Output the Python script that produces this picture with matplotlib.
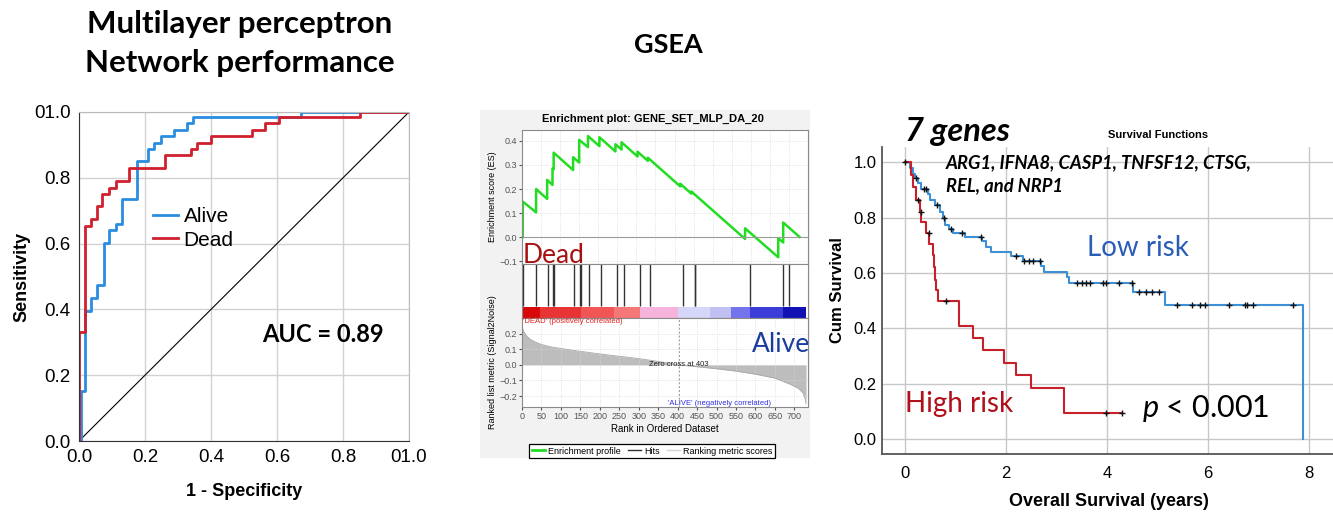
import numpy as np
import matplotlib.pyplot as plt
from matplotlib.patches import Rectangle
from matplotlib.lines import Line2D

W, H = 1333, 515

# ---------------- ROC (multilayer perceptron) ----------------
roc_alive_fpr = [0, 0.006, 0.018, 0.035, 0.055, 0.076, 0.091, 0.111, 0.131, 0.175,
                 0.21, 0.227, 0.247, 0.288, 0.326, 0.346, 0.672, 1.0]
roc_alive_tpr = [0, 0.151, 0.395, 0.435, 0.473, 0.603, 0.64, 0.66, 0.737, 0.851,
                 0.887, 0.907, 0.927, 0.946, 0.966, 0.985, 1.0, 1.0]
roc_dead_fpr = [0, 0, 0.018, 0.035, 0.055, 0.071, 0.091, 0.111, 0.151, 0.262,
                0.338, 0.358, 0.399, 0.525, 0.565, 0.605, 0.851, 1.0]
roc_dead_tpr = [0, 0.33, 0.655, 0.675, 0.713, 0.75, 0.77, 0.79, 0.83, 0.868,
                0.888, 0.907, 0.927, 0.946, 0.966, 0.985, 1.0, 1.0]
roc_ticks = [0, 0.2, 0.4, 0.6, 0.8, 1.0]
roc_ticklabels = ['0.0', '0.2', '0.4', '0.6', '0.8', '01.0']

# ---------------- GSEA ----------------
es_rank = [2, 2, 37, 37, 66, 66, 80, 80, 83, 83, 134, 134, 150, 150, 173, 173,
           203, 203, 245, 245, 261, 261, 303, 303, 330, 330, 415, 415, 444, 444,
           585, 585, 672, 672, 685, 685, 728]
es_val = [0.0, 0.148, 0.103, 0.20, 0.159, 0.238, 0.217, 0.286, 0.282, 0.351,
          0.279, 0.332, 0.31, 0.404, 0.374, 0.42, 0.378, 0.415, 0.356, 0.386,
          0.364, 0.394, 0.335, 0.355, 0.317, 0.33, 0.211, 0.222, 0.181, 0.19,
          -0.007, 0.037, -0.083, -0.004, -0.022, 0.061, 0.001]
hit_rank = [2, 37, 66, 80, 83, 134, 150, 151, 173, 203, 245, 261, 303, 330,
            415, 444, 445, 585, 672, 685]
metric_rank = [0, 3, 10, 20, 35, 50, 75, 100, 140, 200, 250, 300, 350, 403,
               450, 500, 550, 600, 650, 690, 710, 722, 728, 730]
metric_val = [0.25, 0.22, 0.19, 0.165, 0.145, 0.13, 0.115, 0.105, 0.09, 0.07,
              0.055, 0.04, 0.022, 0.0, -0.012, -0.025, -0.04, -0.06, -0.085,
              -0.125, -0.15, -0.18, -0.22, -0.25]
bar_edges = [0, 46, 151, 237, 302, 401, 482, 536, 585, 670, 730]
bar_colors = ['#d80808', '#e83434', '#f05656', '#f47878', '#f6b4dc',
              '#d6d6f8', '#c0c0f2', '#7474ec', '#3c3cd8', '#1212b4']

# ---------------- Kaplan-Meier ----------------
low_t = [0, 0.10, 0.17, 0.20, 0.27, 0.33, 0.45, 0.50, 0.60, 0.70, 0.75, 0.80,
         0.87, 0.95, 1.20, 1.53, 1.60, 1.70, 2.10, 2.33, 2.69, 2.75, 3.20,
         3.25, 4.52, 5.15, 7.88]
low_s = [1.0, 0.98, 0.96, 0.945, 0.925, 0.905, 0.885, 0.865, 0.845, 0.82,
         0.80, 0.775, 0.76, 0.745, 0.73, 0.715, 0.695, 0.675, 0.66, 0.645,
         0.625, 0.605, 0.585, 0.565, 0.53, 0.485, 0.0]
low_cens = [0.01, 0.22, 0.375, 0.43, 0.64, 0.78, 0.92, 1.13, 1.51, 2.2, 2.36,
            2.45, 2.53, 2.68, 3.40, 3.50, 3.58, 3.67, 3.93, 3.98, 4.23, 4.50,
            4.63, 4.77, 4.90, 5.03, 5.38, 5.69, 5.84, 5.94, 6.42, 6.73, 6.77,
            6.89, 7.67]
high_t = [0, 0.12, 0.17, 0.22, 0.30, 0.33, 0.43, 0.48, 0.55, 0.57, 0.60, 0.62,
          0.66, 1.08, 1.34, 1.54, 1.97, 2.20, 2.50, 3.15, 4.30]
high_s = [1.0, 0.955, 0.91, 0.865, 0.82, 0.785, 0.745, 0.705, 0.665, 0.62,
          0.575, 0.54, 0.50, 0.41, 0.365, 0.32, 0.275, 0.23, 0.185, 0.092, 0.092]
high_cens = [0.26, 0.32, 0.47, 0.82, 3.99, 4.30]


def fx(px):
    return px / W


def fy(py):
    return 1 - py / H


def box(x0, y0, x1, y1):
    # pixel corners -> figure rect
    return [fx(x0), fy(y1), (x1 - x0) / W, (y1 - y0) / H]


def surv_at(t, times, surv):
    i = np.searchsorted(times, t, side='right') - 1
    return surv[i]


plt.rcParams['font.family'] = ['Liberation Sans', 'DejaVu Sans']
plt.rcParams['mathtext.fontset'] = 'custom'
plt.rcParams['mathtext.it'] = 'Lato:italic'
plt.rcParams['mathtext.rm'] = 'Lato'
fig = plt.figure(figsize=(W / 100, H / 100), dpi=100)

# ===== panel 1: ROC =====
ax1 = fig.add_axes(box(79, 112, 409, 441))
ax1.grid(True, color='#d2d2d2', lw=1)
ax1.set_axisbelow(True)
ax1.plot([0, 1], [0, 1], color='black', lw=0.8)
ax1.plot(roc_alive_fpr, roc_alive_tpr, drawstyle='steps-post', color='#2b8de0', lw=2, label='Alive')
ax1.plot(roc_dead_fpr, roc_dead_tpr, drawstyle='steps-post', color='#d0202e', lw=2, label='Dead')
ax1.set_xlim(0, 1)
ax1.set_ylim(0, 1)
ax1.set_xticks(roc_ticks)
ax1.set_xticklabels(roc_ticklabels)
ax1.set_yticks(roc_ticks)
ax1.set_yticklabels(roc_ticklabels)
ax1.tick_params(length=0, labelsize=13.5, pad=6)
for s in ['left', 'bottom']:
    ax1.spines[s].set_color('#333333')
for s in ['top', 'right']:
    ax1.spines[s].set_color('#bbbbbb')
ax1.legend(loc='upper left', bbox_to_anchor=(0.225, 0.71), frameon=False, fontsize=15,
           handlelength=1.2, handletextpad=0.25, labelspacing=0.2, borderpad=0, borderaxespad=0)
ax1.text(0.74, 0.325, 'AUC = 0.89', fontsize=17, fontweight='bold', family='Lato',
         ha='center', va='center', transform=ax1.transAxes)
fig.text(fx(22), fy(277), 'Sensitivity', rotation=90, fontsize=13, fontweight='bold', ha='center', va='center')
fig.text(fx(244), fy(492), '1 - Specificity', fontsize=13, fontweight='bold', ha='center', va='center')
fig.text(fx(240), fy(24), 'Multilayer perceptron', fontsize=22.5,
         fontweight='bold', family='Lato', ha='center', va='center')
fig.text(fx(240), fy(63), 'Network performance', fontsize=22.5,
         fontweight='bold', family='Lato', ha='center', va='center')

# ===== panel 2: GSEA =====
fig.patches.append(Rectangle((fx(480), fy(458)), 330 / W, 348 / H, transform=fig.transFigure,
                             facecolor='#f2f2f2', edgecolor='none', zorder=-5))
fig.text(fx(668), fy(45), 'GSEA', fontsize=19.5, fontweight='bold', family='Lato', ha='center', va='center')
fig.text(fx(653), fy(119), 'Enrichment plot: GENE_SET_MLP_DA_20', fontsize=8, fontweight='bold',
         ha='center', va='center')

gsea_x = (0, 735)
ax_es = fig.add_axes(box(522, 130, 808, 264))
ax_es.plot(es_rank, es_val, color='#22dd22', lw=1.8)
ax_es.axhline(0, color='#9a9a9a', lw=0.8)
ax_es.set_xlim(gsea_x)
ax_es.set_ylim(-0.111, 0.445)
ax_es.set_yticks([-0.1, 0.0, 0.1, 0.2, 0.3, 0.4])
ax_es.set_xticks(np.arange(0, 751, 50))
ax_es.tick_params(axis='x', length=0, labelbottom=False)
ax_es.tick_params(axis='y', length=2, labelsize=6.5, colors='#555555', pad=1.5)
ax_es.grid(True, color='#d8d8d8', lw=0.6, ls=':')
ax_es.set_ylabel('Enrichment score (ES)', fontsize=6.5, labelpad=2)
ax_es.text(2, -0.075, 'Dead', fontsize=19, family='Lato', color='#a80f0f', va='center', ha='left')

ax_hit = fig.add_axes(box(522, 264, 808, 318))
ax_hit.vlines(hit_rank, 0.22, 1, color='#333333', lw=1)
ax_hit.broken_barh([(bar_edges[i], bar_edges[i + 1] - bar_edges[i]) for i in range(len(bar_colors))],
                   (0, 0.21), facecolors=bar_colors)
ax_hit.set_xlim(gsea_x)
ax_hit.set_ylim(0, 1)
ax_hit.set_xticks([])
ax_hit.set_yticks([])

ax_m = fig.add_axes(box(522, 318, 808, 407))
ax_m.fill_between(metric_rank, metric_val, 0, color='#bdbdbd', lw=0)
ax_m.plot(metric_rank, metric_val, color='#a8a8a8', lw=0.6)
ax_m.axvline(403, color='#999999', lw=0.7, ls=(0, (2, 2)))
ax_m.set_xlim(gsea_x)
ax_m.set_ylim(-0.27, 0.30)
ax_m.set_yticks([-0.2, -0.1, 0.0, 0.1, 0.2])
ax_m.set_xticks(np.arange(0, 701, 50))
ax_m.tick_params(length=2, labelsize=6.5, colors='#555555', pad=1.5)
ax_m.grid(True, color='#d8d8d8', lw=0.6, ls=':')
ax_m.set_ylabel('Ranked list metric (Signal2Noise)', fontsize=6.5, labelpad=2)
ax_m.set_xlabel('Rank in Ordered Dataset', fontsize=7, labelpad=2)
ax_m.text(2, 0.275, "'DEAD' (positively correlated)", fontsize=5.5, color='#e02020', va='center')
ax_m.text(403, 0.005, 'Zero cross at 403', fontsize=5.5, color='#222222', ha='center', va='center')
ax_m.text(640, -0.245, "'ALIVE' (negatively correlated)", fontsize=5.5, color='#3030e0',
          ha='right', va='center')
ax_m.text(590, 0.13, 'Alive', fontsize=19, family='Lato', color='#1a3c9c', va='center',
          ha='left', clip_on=False)

for a in (ax_es, ax_hit, ax_m):
    for s in a.spines.values():
        s.set_color('#8a8a8a')
        s.set_linewidth(0.8)

handles = [Line2D([], [], color='#22dd22', lw=2), Line2D([], [], color='#333333', lw=1),
           Line2D([], [], color='#d4d4d4', lw=1)]
leg = fig.legend(handles, ['Enrichment profile', 'Hits', 'Ranking metric scores'], ncol=3,
                 loc='center', bbox_to_anchor=(fx(652), fy(451)), fontsize=6.5, fancybox=False,
                 edgecolor='black', handlelength=1.5, handletextpad=0.3, columnspacing=0.8,
                 borderpad=0.3, framealpha=1)
leg.get_frame().set_linewidth(0.9)

# ===== panel 3: Kaplan-Meier =====
ax3 = fig.add_axes(box(882, 147, 1333, 454))
ax3.grid(True, color='#c8c8c8', lw=1)
ax3.set_axisbelow(True)
ax3.plot(low_t, low_s, drawstyle='steps-post', color='#3d8fd6', lw=1.5)
ax3.plot(high_t, high_s, drawstyle='steps-post', color='#c8202a', lw=1.5)
ax3.plot(low_cens, [surv_at(t, low_t, low_s) for t in low_cens], '+', color='#111111', ms=5, mew=1)
ax3.plot(high_cens, [surv_at(t, high_t, high_s) for t in high_cens], '+', color='#111111', ms=5, mew=1)
ax3.set_xlim(-0.45, 8.47)
ax3.set_ylim(-0.055, 1.056)
ax3.set_xticks([0, 2, 4, 6, 8])
ax3.set_yticks([0, 0.2, 0.4, 0.6, 0.8, 1.0])
ax3.set_yticklabels(['0.0', '0.2', '0.4', '0.6', '0.8', '1.0'])
ax3.tick_params(length=0, labelsize=12)
ax3.tick_params(axis='x', pad=9)
ax3.tick_params(axis='y', pad=4)
for s in ['top', 'right']:
    ax3.spines[s].set_visible(False)
for s in ['left', 'bottom']:
    ax3.spines[s].set_color('#555555')
    ax3.spines[s].set_linewidth(1.3)
fig.text(fx(837), fy(290), 'Cum Survival', rotation=90, fontsize=12, fontweight='bold', ha='center', va='center')
fig.text(fx(1109), fy(502), 'Overall Survival (years)', fontsize=13, fontweight='bold', ha='center', va='center')
fig.text(fx(905), fy(131), '7 genes', fontsize=23.5, fontweight='bold', style='italic', family='Lato',
         ha='left', va='center')
fig.text(fx(1158), fy(135), 'Survival Functions', fontsize=8, fontweight='bold', ha='center', va='center')
fig.text(fx(946), fy(174), 'ARG1, IFNA8, CASP1, TNFSF12, CTSG,\nREL, and NRP1', fontsize=13.2,
         fontweight='bold', style='italic', family='Lato', ha='left', va='center', linespacing=1.4)
ax3.text(3.6, 0.69, 'Low risk', fontsize=20, family='Lato', color='#2a5cb8', ha='left', va='center')
ax3.text(0.0, 0.125, 'High risk', fontsize=20, family='Lato', color='#b0101a', ha='left', va='center')
ax3.text(4.7, 0.11, r'$p$ < 0.001', fontsize=22, family='Lato', color='black', ha='left', va='center')

fig.savefig('out.png', dpi=100)
